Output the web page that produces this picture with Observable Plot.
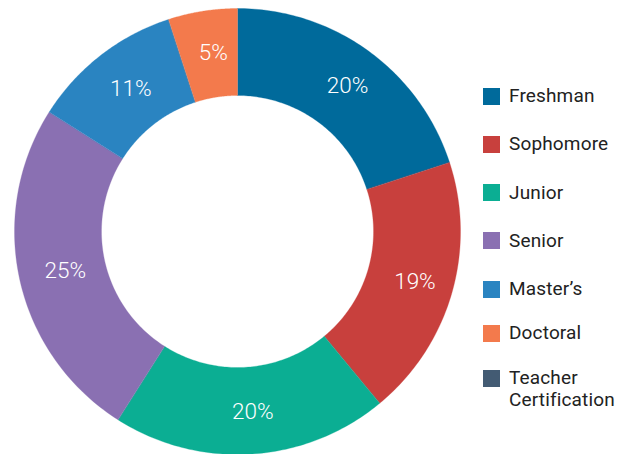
<!DOCTYPE html>
<html><head><meta charset="utf-8">
<script src="https://cdn.jsdelivr.net/npm/d3@7"></script>
<script src="https://cdn.jsdelivr.net/npm/@observablehq/plot@0.6"></script>
<style>
body{margin:0;background:#fff;font-family:Roboto,"Open Sans",sans-serif}
#wrap{position:relative;width:626px;height:454px;overflow:hidden}
#legend{position:absolute;left:483px;top:0;width:143px}
.item{position:absolute;left:0;display:flex;align-items:flex-start;white-space:nowrap}
.sw{width:17px;height:17px;flex:none;margin-right:9px}
.lab{font-size:19px;line-height:22.5px;color:#222;margin-top:-2.6px;letter-spacing:0.15px}
</style></head><body><div id="wrap"></div><script>
const categories = ["Freshman","Sophomore","Junior","Senior","Master’s","Doctoral","Teacher Certification"];
const values = [20,19,20,25,11,5,0];
const colors = ["#006a9b","#c8403d","#0bae93","#8a70b2","#2a84c1","#f37a4c","#435b73"];

const total = d3.sum(values);
const innerR = 0.61, labelR = 0.81;
const pts = [], labels = [];
let cum = 0;
categories.forEach((c, i) => {
  const v = values[i];
  const a0 = cum / total * 2 * Math.PI;
  cum += v;
  const a1 = cum / total * 2 * Math.PI;
  if (v <= 0) return;
  const n = 80;
  for (let k = 0; k <= n; k++) {
    const a = a0 + (a1 - a0) * k / n;
    pts.push({cat: c, x: Math.sin(a), y: Math.cos(a)});
  }
  for (let k = n; k >= 0; k--) {
    const a = a0 + (a1 - a0) * k / n;
    pts.push({cat: c, x: innerR * Math.sin(a), y: innerR * Math.cos(a)});
  }
  const am = (a0 + a1) / 2;
  labels.push({x: labelR * Math.sin(am), y: labelR * Math.cos(am), text: Math.round(v / total * 100) + "%"});
});

const cx = 237, cy = 231, R = 223;
const chart = Plot.plot({
  width: 626, height: 454,
  margin: 0,
  x: {domain: [-1, 1], range: [cx - R, cx + R], axis: null},
  y: {domain: [-1, 1], range: [cy + R, cy - R], axis: null},
  color: {domain: categories, range: colors},
  style: {fontFamily: "Roboto, sans-serif", background: "white"},
  marks: [
    Plot.line(pts, {x: "x", y: "y", z: "cat", fill: "cat", stroke: "cat", strokeWidth: 0.3, curve: "linear-closed"}),
    Plot.text(labels, {x: "x", y: "y", text: "text", fill: "white", fontSize: 22.5, fontWeight: 300, dx: 4})
  ]
});
const wrap = document.getElementById("wrap");
wrap.appendChild(chart);

const legend = document.createElement("div");
legend.id = "legend";
categories.forEach((c, i) => {
  const center = i <= 4 ? 96 + 48.3 * i : 289 + 44.5 * (i - 4);
  const item = document.createElement("div");
  item.className = "item";
  item.style.top = (center - 8.5) + "px";
  const sw = document.createElement("div");
  sw.className = "sw";
  sw.style.background = colors[i];
  const lab = document.createElement("div");
  lab.className = "lab";
  if (c === "Teacher Certification") lab.innerHTML = "Teacher<br>Certification";
  else lab.textContent = c;
  item.appendChild(sw); item.appendChild(lab);
  legend.appendChild(item);
});
wrap.appendChild(legend);
</script></body></html>
